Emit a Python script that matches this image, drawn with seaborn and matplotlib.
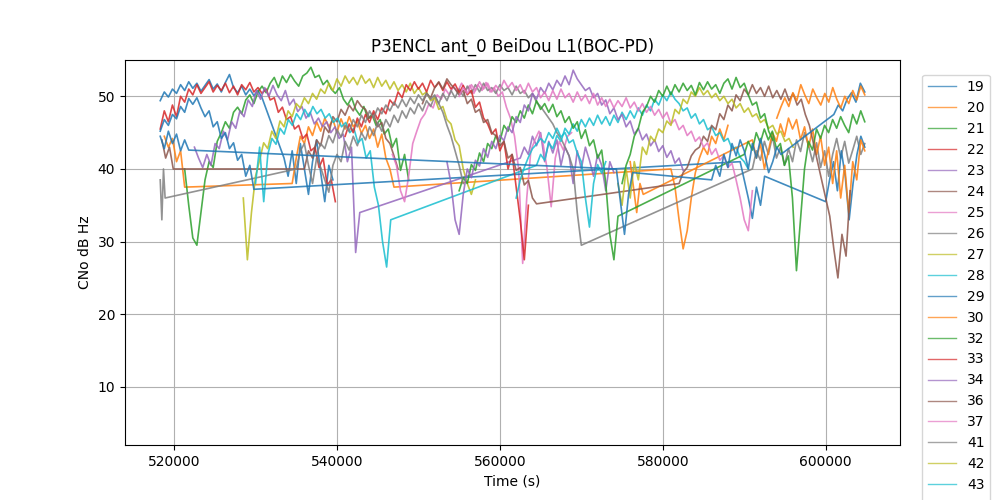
import numpy as np
import pandas as pd
import seaborn as sns
import matplotlib
matplotlib.use("Agg")
import matplotlib.pyplot as plt

# satellite ids in legend order (colours follow the tab10 cycle)
prn_labels = ['19', '20', '21', '22', '23', '24', '25', '26', '27', '28',
              '29', '30', '32', '33', '34', '36', '37', '41', '42', '43',
              '44', '45', '46']

# each arc: (start ks, end ks, CNo values, evenly spaced)
v19a = [49.4, 50.6, 49.9, 51.0, 50.4, 51.6, 50.8, 52.0, 51.1, 51.8, 50.7, 51.5, 52.3,
        51.0, 51.7, 50.6, 51.9, 53.0, 51.2, 50.5, 51.4, 50.2, 51.0, 50.1, 50.8, 49.8]
v19b = [41.5, 39.0, 42.5, 38.0, 43.5, 40.0, 36.5, 41.0, 44.0, 39.5, 35.5, 40.5, 38.5]

v29a = [45.2, 46.8, 46.0, 47.5, 46.9, 48.6, 47.8, 49.7, 48.9, 49.8, 48.4, 47.2,
        48.0, 45.8, 46.5, 44.2, 45.0, 42.8, 43.6, 41.2, 42.0, 39.0, 40.5, 37.2]
v29b = [41.0, 38.5, 36.0, 33.2, 37.5, 35.0, 39.0]
v29c = [35.5, 38.5, 41.0, 37.0, 42.5, 39.0, 33.0, 38.0, 42.0, 44.5, 43.0]

v44a = [44.5, 42.8, 45.2, 43.5, 44.8, 42.5, 44.0, 42.6]
v44b = [40.0, 35.5, 31.0, 36.5, 39.5]
v44c = [38.5, 40.5, 39.0, 42.0, 40.2, 43.5, 41.8, 44.0, 42.5, 40.0, 43.5, 41.5,
        44.2, 42.0, 39.5, 41.0, 43.0, 42.0]
v44d = [47.5, 48.8, 48.0, 49.6, 50.5, 49.2, 51.8, 50.6]

v20a = [44.5, 43.0, 44.2, 41.0, 42.5, 37.5]
v20b = [38.0, 41.5, 44.5, 43.5, 45.8, 44.6, 46.5, 45.2, 47.0, 45.8, 46.8, 45.0, 46.9,
        45.5, 47.2, 45.8, 46.6, 44.9, 46.0, 44.2, 45.5, 43.0, 44.8, 41.5, 40.0, 37.5]
v20c = [40.0, 37.5, 33.0, 29.0, 31.5, 36.0, 39.5, 41.5, 43.0, 42.0, 44.5, 43.5, 45.5, 44.0, 46.0]

v30a = [41.0, 37.5, 34.0, 38.0, 36.5]
v30b = [44.0, 41.5, 43.5, 40.0, 42.5, 45.0, 43.8, 46.2, 44.5, 47.0,
        45.5, 46.8, 44.0, 45.8, 43.0, 45.5, 42.0, 44.5, 40.5, 43.0,
        38.0, 42.5, 36.0, 40.5, 34.0, 41.0, 38.5, 44.0, 42.5]

v45a = [47.0, 48.5, 49.8, 48.6, 50.5, 49.4, 51.6, 50.2, 49.0, 51.0, 49.8, 48.8,
        50.4, 49.2, 51.2, 49.6, 48.4, 50.0, 49.0, 50.8, 49.5, 51.4, 50.2]

v21a = [40.0, 35.0, 30.5, 29.5, 34.0, 38.5, 41.0, 40.2, 43.8, 45.0,
        46.5, 45.6, 47.8, 48.5, 47.6, 49.5, 50.2, 49.0, 50.6, 51.4,
        50.5, 51.8, 52.6, 51.2, 52.8, 51.9, 53.0, 52.1, 51.4, 52.8,
        53.2, 54.0, 52.6, 52.9, 51.6, 52.2, 51.0, 50.4, 51.2, 49.6,
        48.8, 49.8, 48.2, 47.4, 48.6, 46.9, 47.5, 46.0, 46.8, 44.8,
        45.5, 43.0, 44.2, 39.8, 42.0, 38.5]

v32a = [37.0, 38.8, 38.0, 40.6, 39.8, 42.2, 41.0, 43.5, 42.8, 44.6,
        43.8, 46.0, 45.2, 47.2, 46.4, 48.0, 47.0, 48.8, 47.6, 49.4,
        48.2, 49.0, 47.8, 48.9, 47.2, 48.0, 46.4, 47.2, 45.6, 46.5,
        44.2, 45.4, 43.2, 44.0, 41.5, 42.6, 38.0, 31.0, 27.5, 33.5]
v32b = [42.0, 43.8, 42.6, 45.0, 43.6, 45.5, 44.0, 45.2, 42.8, 43.5,
        40.5, 41.8, 36.0, 26.0, 33.0, 40.0, 43.8, 42.6, 45.5, 44.2,
        46.0, 45.0, 46.8, 45.6, 47.2, 46.0, 45.0, 47.5, 46.2, 48.0, 46.5]

v46a = [38.0, 40.5, 42.0, 44.5, 45.6, 47.8, 48.6, 50.0, 49.2, 50.8,
        50.0, 51.4, 50.2, 51.6, 50.6, 51.8, 50.8, 51.5, 50.2, 51.9,
        50.9, 52.0, 51.0, 51.6, 50.4, 51.8, 52.4, 51.0, 52.6, 51.2,
        51.8, 50.2, 48.8, 49.2, 47.0, 47.6, 45.2, 44.0]

v22a = [45.5, 48.0, 46.5, 48.8, 47.2, 50.0, 49.2, 51.0, 50.2, 51.6,
        50.4, 51.2, 52.0, 50.6, 51.5, 50.8, 51.8, 50.5, 51.4, 50.2,
        51.6, 50.9, 51.9, 50.6, 51.2, 50.4, 51.0, 49.5, 49.8, 47.8,
        48.5, 46.8, 47.2, 45.5, 46.0, 44.2, 44.8, 42.5, 43.0, 40.2,
        41.5, 37.8, 38.5, 35.5]

v33a = [44.5, 46.2, 45.0, 47.0, 45.8, 47.5, 46.4, 48.0, 46.8, 48.4,
        47.6, 49.5, 48.8, 50.6, 49.8, 51.6, 50.8, 52.0, 51.0, 51.8,
        50.6, 52.2, 51.2, 51.9, 50.8, 52.0, 51.0, 51.7, 50.5, 51.5,
        50.2, 50.8, 48.5, 49.2, 47.0, 46.2, 44.8, 45.5, 42.5, 43.8,
        40.0, 42.0, 37.5, 33.0, 27.5, 35.0]

v23a = [43.0, 41.5, 40.2, 42.0, 40.5, 43.5, 42.8, 45.2, 44.0, 46.5,
        45.6, 48.0, 47.2, 49.5, 48.6, 50.8, 49.6, 51.2, 50.0, 51.5,
        50.2, 49.4, 50.8, 48.8, 49.6, 47.9, 48.6, 47.0, 47.8, 46.2,
        47.0, 45.8, 46.5, 45.0, 45.8, 44.2, 44.8, 41.0, 43.0, 28.5, 34.0]
v23b = [41.5, 43.0, 42.0, 44.5, 43.2, 45.0, 41.0, 43.8, 42.2, 44.0, 40.5, 43.0,
        41.8, 38.0, 42.5, 40.0, 43.0, 41.2, 39.0, 42.0, 40.5, 37.0, 41.0, 39.5]

v34a = [41.0, 38.0, 33.0, 31.0, 36.5, 40.0, 38.8, 41.2, 40.4, 42.8,
        41.6, 43.8, 42.8, 44.6, 43.9, 45.8, 45.0, 47.2, 46.4, 48.8,
        48.0, 50.4, 49.6, 51.2, 50.4, 51.8, 50.9, 52.2, 51.4, 52.8,
        51.6, 53.6, 52.4, 51.6, 50.8, 51.2, 49.8, 50.4, 48.8, 49.5,
        47.6, 48.4, 46.8, 47.5, 45.8, 46.6, 44.8, 45.6, 44.0, 44.8,
        43.2, 44.0, 42.4, 43.2, 41.6, 42.5, 40.8, 41.5, 39.8]

v24a = [44.0, 41.5, 43.0, 40.0]
v24b = [40.0, 42.5, 41.5, 44.0, 43.2, 45.8, 45.0, 47.2, 46.5, 48.2, 47.4, 48.8,
        48.0, 49.4, 48.6, 48.2, 47.0, 47.6, 45.8, 46.4, 44.2, 43.5, 41.8, 40.0]

v36a = [49.0, 50.4, 49.8, 51.2, 52.0, 51.0, 52.4, 51.6, 51.0, 50.2,
        50.8, 49.0, 49.6, 47.8, 48.2, 46.4, 46.8, 45.0, 44.6, 43.2,
        43.8, 41.5, 42.0, 39.8, 40.2, 37.8, 38.4, 36.0, 35.2]
v36b = [38.0, 39.5, 40.2, 41.8, 42.6, 43.0, 44.5, 43.8, 46.0, 45.4,
        47.6, 46.8, 48.8, 48.0, 50.2, 49.4, 51.0, 50.2, 51.6, 50.4,
        51.2, 50.0, 51.4, 49.8, 50.8, 49.6, 51.0, 49.4, 50.4, 48.8,
        49.6, 47.5, 46.0, 43.5, 41.0, 38.5, 36.0, 33.5, 29.0, 25.0,
        31.0, 28.0, 37.0]

v25a = [42.0, 40.5, 37.0, 35.5, 39.0, 43.5, 45.2, 46.8, 47.6, 49.0,
        48.4, 50.2, 49.6, 51.0, 50.2, 51.4, 50.6, 51.8, 50.8, 51.5,
        50.4, 51.6, 50.8, 51.9, 50.6, 51.2, 50.0, 50.6, 48.5, 47.0,
        44.5, 40.0, 27.0, 36.0, 42.5, 44.0, 45.2, 43.5, 40.0, 34.8,
        41.5, 43.8, 42.6, 44.5, 45.0]

v37a = [50.0, 51.2, 50.4, 51.6, 50.8, 52.0, 51.0, 51.8, 50.6, 51.5,
        50.8, 52.2, 51.2, 51.9, 50.8, 51.6, 50.4, 51.8, 50.6, 51.2,
        49.8, 50.6, 49.4, 50.8, 49.6, 51.0, 49.8, 50.4, 49.2, 50.6,
        49.4, 50.2, 49.0, 50.4, 48.8, 49.8, 48.6, 49.6, 48.4, 49.4,
        48.6, 49.8, 48.4, 49.2, 48.0, 49.0, 47.8, 48.6, 47.4, 48.2,
        47.0, 47.8, 46.2, 46.8, 45.4, 46.0, 44.6, 45.2, 43.8, 44.4,
        43.0, 43.6, 42.0, 42.8, 41.2, 41.8, 40.2, 40.8, 38.5, 36.0,
        33.0, 31.5, 37.0]

v26a = [38.5, 33.0, 40.0, 36.0]
v26b = [40.0, 42.5, 43.5, 40.5, 38.0, 41.5, 40.2, 38.5, 36.8, 40.5,
        42.0, 41.0, 43.8, 42.6, 44.5, 43.2, 45.0, 44.0, 45.8, 44.6,
        46.4, 45.2, 46.8, 45.8, 47.4, 46.4, 48.0, 47.0, 48.4, 47.6,
        49.0, 48.0, 49.4, 48.6, 50.0, 49.0, 50.4, 49.4, 50.8, 49.8,
        51.0, 50.0, 51.4, 50.4, 51.6, 50.6, 51.8, 50.8, 51.2, 50.4,
        51.6, 50.8, 51.2, 50.2, 51.4, 50.4, 50.8, 49.8, 50.4, 49.2,
        48.6, 47.8, 47.0, 46.2, 45.0, 44.2, 43.0, 41.8, 40.0, 34.0, 29.5]
v26c = [40.0, 42.5, 41.2, 43.8, 42.0, 44.5, 41.5, 43.0, 40.5, 42.8,
        41.0, 44.0, 42.4, 45.0, 43.2, 41.0, 43.6, 40.2, 42.5, 39.0,
        42.0, 44.2, 41.5, 43.8, 40.8, 42.6, 44.5, 42.0, 43.5]

v41a = [42.0, 43.5, 42.8, 44.6, 43.6, 45.4, 44.4, 46.0, 45.2,
        46.8, 45.8, 47.4, 46.4, 48.0, 47.0, 48.4, 47.6, 48.8,
        48.0, 49.2, 48.4, 49.6, 48.6, 49.8, 49.0, 50.2, 49.4,
        50.4, 49.6, 50.2, 49.0, 47.8, 46.0, 44.5, 42.5, 40.5, 38.0]

v27a = [36.0, 27.5, 34.0, 39.0, 41.2, 43.6, 42.8, 45.2, 44.2,
        46.6, 45.8, 48.0, 47.2, 49.0, 48.4, 49.8, 49.0, 50.4,
        49.6, 51.0, 50.4, 51.8, 50.8, 52.4, 51.4, 52.8, 51.8,
        52.6, 51.6, 52.9, 51.8, 52.4, 51.2, 52.6, 51.4, 52.2,
        51.0, 52.0, 50.8, 51.6, 50.6, 51.8, 50.4, 51.2, 50.2,
        50.6, 49.4, 49.8, 48.2, 48.6, 46.8, 46.2, 44.0, 43.2,
        40.0, 38.0, 36.5, 38.5]

v42a = [38.0, 35.0, 40.0, 36.0, 41.0, 38.5, 43.0, 42.0, 44.5,
        43.8, 45.5, 45.0, 46.6, 46.0, 48.2, 47.6, 49.6, 49.0,
        50.6, 50.0, 51.2, 50.2, 50.8, 49.8, 50.4, 49.4, 50.0,
        49.0, 49.6, 48.4, 49.0, 47.8, 48.4, 47.2, 47.6, 46.4,
        46.8, 45.6, 46.0, 44.8, 45.2, 43.8, 44.2, 43.0]

v28a = [38.0, 43.0, 35.5, 42.0, 44.2, 43.4, 45.6, 44.8, 46.8,
        46.0, 47.6, 46.8, 48.2, 47.2, 48.6, 47.6, 48.2, 47.0,
        47.6, 46.4, 47.0, 45.8, 46.4, 45.0, 45.6, 43.6, 44.2,
        41.5, 42.5, 37.5, 35.0, 30.0, 26.5, 33.0]
v28b = [40.5, 42.0, 41.2, 43.6, 42.8, 44.6, 43.8, 45.6, 44.8,
        46.2, 45.2, 46.8, 45.8, 47.0, 46.0, 47.4, 46.2, 47.2,
        46.0, 47.4, 46.4, 47.8, 46.8, 48.0, 47.0, 48.4, 47.4,
        48.8, 48.0, 49.6, 48.8, 50.2, 49.4, 50.6, 49.6, 49.0,
        48.0, 48.4, 47.0, 47.6, 46.2, 46.8, 45.4, 45.8, 44.6,
        45.0, 43.8, 44.2, 42.8, 43.0, 41.6, 41.0, 40.0]

v43a = [36.0, 38.5, 40.2, 41.6, 42.8, 43.4, 44.2, 43.6, 45.0, 44.2, 45.6, 44.4,
        45.0, 43.6, 44.0, 42.2, 41.0, 36.0, 32.0, 38.0, 40.6, 39.4, 41.0]

arcs = {
    '19': [(518.3, 530.8, v19a), (533.5, 539.5, v19b)],
    '20': [(518.8, 521.3, v20a), (534.5, 547.0, v20b), (581.0, 588.0, v20c)],
    '21': [(521.3, 548.8, v21a)],
    '22': [(518.3, 539.8, v22a)],
    '23': [(522.5, 542.8, v23a), (562.5, 574.0, v23b)],
    '24': [(518.5, 519.9, v24a), (536.0, 547.5, v24b)],
    '25': [(546.8, 568.8, v25a)],
    '26': [(518.3, 518.9, v26a), (535.0, 570.0, v26b), (591.0, 604.8, v26c)],
    '27': [(528.5, 557.0, v27a)],
    '28': [(530.0, 546.6, v28a), (564.5, 590.5, v28b)],
    '29': [(518.3, 529.8, v29a), (589.5, 592.5, v29b), (600.0, 604.8, v29c)],
    '30': [(576.0, 577.6, v30a), (591.0, 604.8, v30b)],
    '32': [(555.0, 574.5, v32a), (590.0, 604.8, v32b)],
    '33': [(541.0, 563.5, v33a)],
    '34': [(553.5, 582.5, v34a)],
    '36': [(550.5, 564.5, v36a), (582.0, 603.0, v36b)],
    '37': [(555.0, 591.0, v37a)],
    '41': [(537.5, 555.5, v41a)],
    '42': [(574.5, 596.0, v42a)],
    '43': [(562.0, 573.0, v43a)],
    '44': [(518.3, 521.8, v44a), (574.3, 576.3, v44b), (586.0, 594.5, v44c), (601.0, 604.8, v44d)],
    '45': [(594.0, 604.8, v45a)],
    '46': [(575.0, 593.5, v46a)],
}

frames = []
for prn in prn_labels:
    for t0, t1, vals in arcs[prn]:
        t = np.linspace(t0, t1, len(vals)) * 1000
        frames.append(pd.DataFrame({'time': t, 'cno': vals, 'prn': prn}))
df = pd.concat(frames, ignore_index=True)

fig, ax = plt.subplots(figsize=(10, 5), dpi=100)
sns.lineplot(data=df, x='time', y='cno', hue='prn', hue_order=prn_labels,
             palette=sns.color_palette('tab10', len(prn_labels)),
             estimator=None, sort=False, linewidth=1.2, alpha=0.85, ax=ax)

ax.set_ylim(2, 55)
ax.grid(True)
ax.set_title("P3ENCL ant_0 BeiDou L1(BOC-PD)")
ax.set_xlabel("Time (s)")
ax.set_ylabel("CNo dB Hz")

# legend sits outside the axes and runs off the bottom, like the original
handles, labels = ax.get_legend_handles_labels()
for h in handles:
    h.set_alpha(0.7)
    h.set_linewidth(1.0)
ax.legend(handles, labels, loc='upper left', bbox_to_anchor=(1.02, 0.98))

plt.savefig("out.png")
